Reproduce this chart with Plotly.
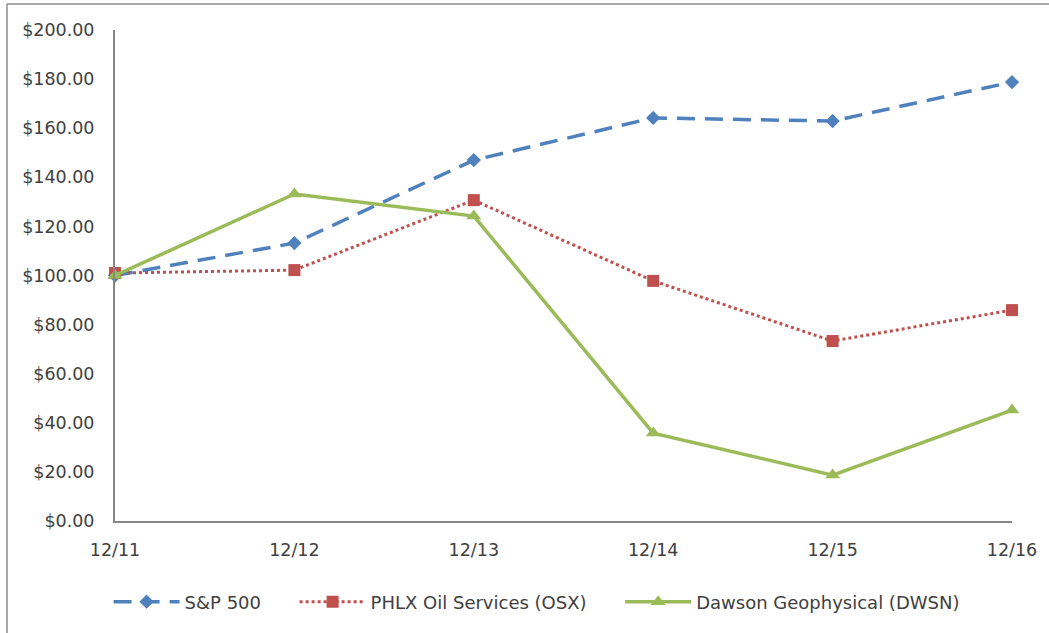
import plotly.graph_objects as go

categories = ["12/11", "12/12", "12/13", "12/14", "12/15", "12/16"]
sp500 = [100.0, 113.2, 147.0, 164.2, 162.9, 178.8]
phlx = [101.0, 102.2, 130.7, 97.8, 73.3, 85.9]
dawson = [100.0, 133.2, 124.2, 35.8, 18.7, 45.2]
y_ticks = [0, 20, 40, 60, 80, 100, 120, 140, 160, 180, 200]
y_tick_text = ["$%.2f" % v for v in y_ticks]

FONT = "DejaVu Sans"
NB = "\u00a0"
fig = go.Figure()
fig.add_trace(go.Scatter(
    x=categories, y=sp500, name="S&P 500" + NB * 5, mode="lines+markers",
    line=dict(color="#4F81BD", width=3.5, dash="18px,10px"), cliponaxis=False,
    marker=dict(symbol="diamond", size=11, color="#4F81BD")))
fig.add_trace(go.Scatter(
    x=categories, y=phlx, name="PHLX Oil Services (OSX)" + NB * 5, mode="lines+markers",
    line=dict(color="#C0504D", width=3, dash="dot"), cliponaxis=False,
    marker=dict(symbol="square", size=12, color="#C0504D")))
fig.add_trace(go.Scatter(
    x=categories, y=dawson, name="Dawson Geophysical (DWSN)", mode="lines+markers",
    line=dict(color="#9BBB59", width=3.5), cliponaxis=False,
    marker=dict(symbol="triangle-up", size=13, color="#9BBB59")))

fig.update_layout(
    width=1049, height=633,
    margin=dict(l=115, r=37, t=30, b=112),
    paper_bgcolor="white", plot_bgcolor="white",
    font=dict(family=FONT, size=17.5, color="#404040"),
    showlegend=True,
    legend=dict(orientation="h", x=0.47, xanchor="center", y=-0.165, yanchor="middle",
                font=dict(family=FONT, size=18, color="#404040"), itemwidth=66,
                tracegroupgap=0),
    xaxis=dict(type="category", range=[0, 5], showgrid=False, showline=True,
               linecolor="#868686", linewidth=2, ticks="", ticklabelstandoff=12,
               zeroline=False),
    yaxis=dict(range=[0, 200], tickvals=y_ticks, ticktext=y_tick_text,
               showgrid=False, showline=True, linecolor="#868686", linewidth=2,
               ticks="", ticklabelstandoff=15, zeroline=False),
    shapes=[
        dict(type="line", xref="paper", yref="paper", x0=-0.1204, x1=-0.1204,
             y0=-0.23, y1=1.053, line=dict(color="#8C8C8C", width=1.5)),
        dict(type="line", xref="paper", yref="paper", x0=-0.1204, x1=1.05,
             y0=1.053, y1=1.053, line=dict(color="#8C8C8C", width=1.5)),
    ],
)

fig.write_html("out.html", config={"displayModeBar": False},
               post_script="document.body.style.margin='0';")
